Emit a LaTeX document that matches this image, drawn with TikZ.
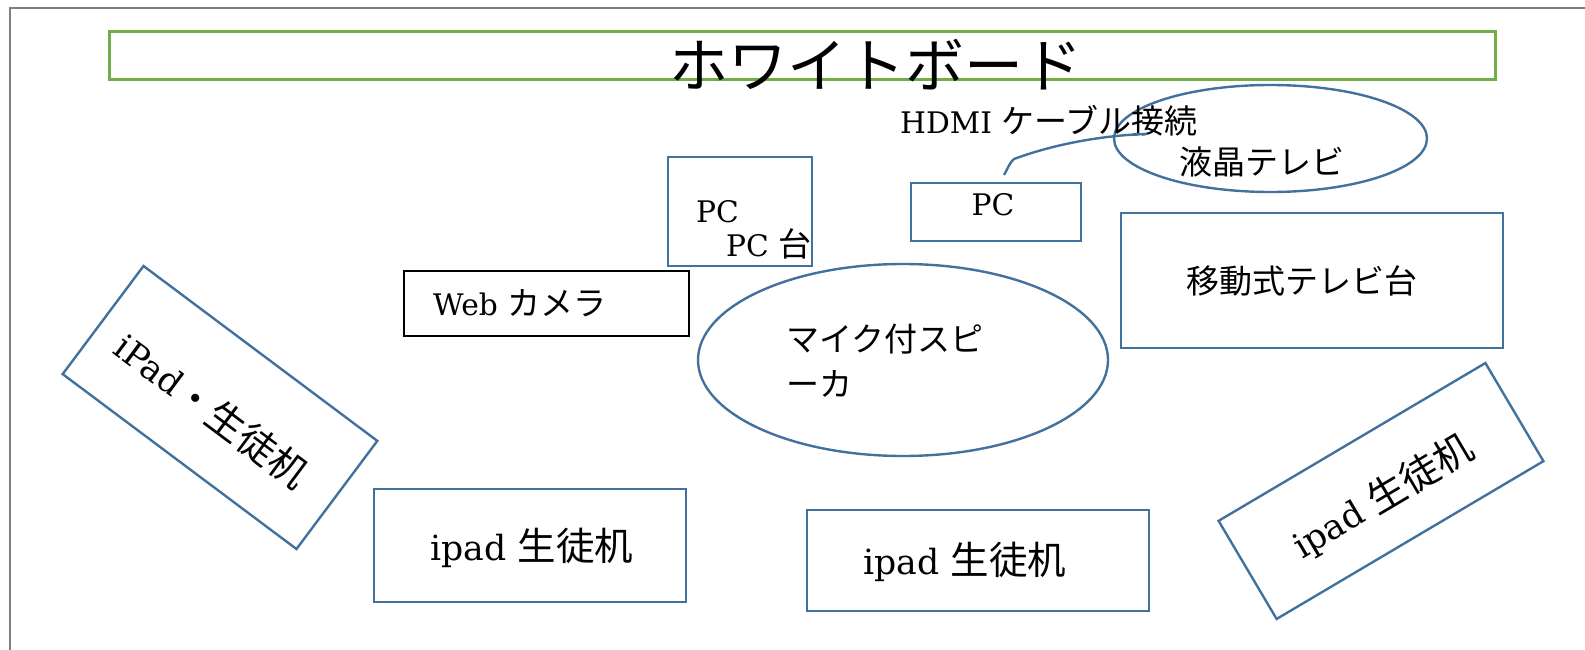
\documentclass[tikz,border=0pt]{standalone}
\usepackage{fontspec}
\usetikzlibrary{shapes.geometric}
\setmainfont{DejaVu Serif}[Scale=0.9]
\newfontfamily\cjk{Noto Sans CJK JP}
\definecolor{boxblue}{HTML}{41719C}
\definecolor{wbgreen}{HTML}{70AD47}
\definecolor{framegray}{HTML}{7F7F7F}
\begin{document}
\begin{tikzpicture}[x=1pt,y=-1pt,
  bx/.style={draw=boxblue, line width=2.4pt, inner sep=0pt, rectangle},
  ell/.style={draw=boxblue, line width=2.4pt, inner sep=0pt, ellipse},
  txt/.style={inner sep=0pt, font=\fontsize{33}{40}\selectfont},
  bigtxt/.style={inner sep=0pt, font=\fontsize{38.5}{46}\selectfont},
  cable/.style={draw=boxblue, line width=2.4pt}]
\useasboundingbox (0,0) rectangle (1585,650);
% outer frame (top and left)
\draw[framegray, line width=2.8pt] (10,650) -- (10,8) -- (1585,8);
% whiteboard
\node[draw=wbgreen, line width=3pt, minimum width=1386, minimum height=48, inner sep=0pt] (wb) at (802,56) {};
\node[inner sep=0pt, font=\fontsize{59}{66}\selectfont] (wbt) at (876,65) {\cjk ホワイトボード};
% TV ellipse
\node[ell, minimum width=313, minimum height=107] (tv) at (1270.5,138.5) {};
\node[txt] (tvt) at (1262,162) {\cjk 液晶テレビ};
\node[txt, anchor=west] (hdmi) at (900,121) {HDMI {\cjk ケーブル接続}};
% PC stand
\node[bx, minimum width=144, minimum height=109] (pcdai) at (740,211.5) {};
\node[txt, anchor=west] (pc1) at (696,212) {PC};
\node[txt, anchor=west] (pc2) at (726,244) {PC {\cjk 台}};
% PC
\node[bx, minimum width=170, minimum height=58] (pc) at (996,212) {};
\node[txt] (pct) at (993,205) {PC};
% cable
\coordinate (cs) at (1004,175);
\coordinate (ce) at (1147,134);
\draw[cable] (cs) .. controls (1008,168) and (1010,162) .. (1014,159)
  .. controls (1060,142) and (1110,135) .. (ce);
% web camera
\node[draw=black, line width=2pt, minimum width=285, minimum height=65, inner sep=0pt] (cam) at (546.5,303.5) {};
\node[txt, anchor=west] (camt) at (433,303) {Web {\cjk カメラ}};
% mobile TV stand
\node[bx, minimum width=382, minimum height=135] (stand) at (1312,280.5) {};
\node[txt] (standt) at (1302,281) {\cjk 移動式テレビ台};
% speaker
\node[ell, minimum width=410, minimum height=192] (spk) at (903,360) {};
\node[txt, anchor=west] (spk1) at (786,339) {\cjk マイク付スピ};
\node[txt, anchor=west] (spk2) at (786,384) {\cjk ーカ};
% left rotated desk
\node[bx, rotate=-36.8, minimum width=292, minimum height=135] (ldesk) at (220,407.5) {};
\node[bigtxt, rotate=-36.8] (ldeskt) at (212,410) {iPad{\cjk ・生徒机}};
% bottom desks
\node[bx, minimum width=312, minimum height=113] (desk1) at (530,545.5) {};
\node[bigtxt] (desk1t) at (532,548) {ipad {\cjk 生徒机}};
\node[bx, minimum width=342, minimum height=101] (desk2) at (978,560.5) {};
\node[bigtxt] (desk2t) at (965,562) {ipad {\cjk 生徒机}};
% right rotated desk
\node[bx, rotate=30.6, minimum width=310, minimum height=114] (rdesk) at (1381,491) {};
\node[bigtxt, rotate=30.6] (rdeskt) at (1383,497) {ipad {\cjk 生徒机}};
\end{tikzpicture}
\end{document}
